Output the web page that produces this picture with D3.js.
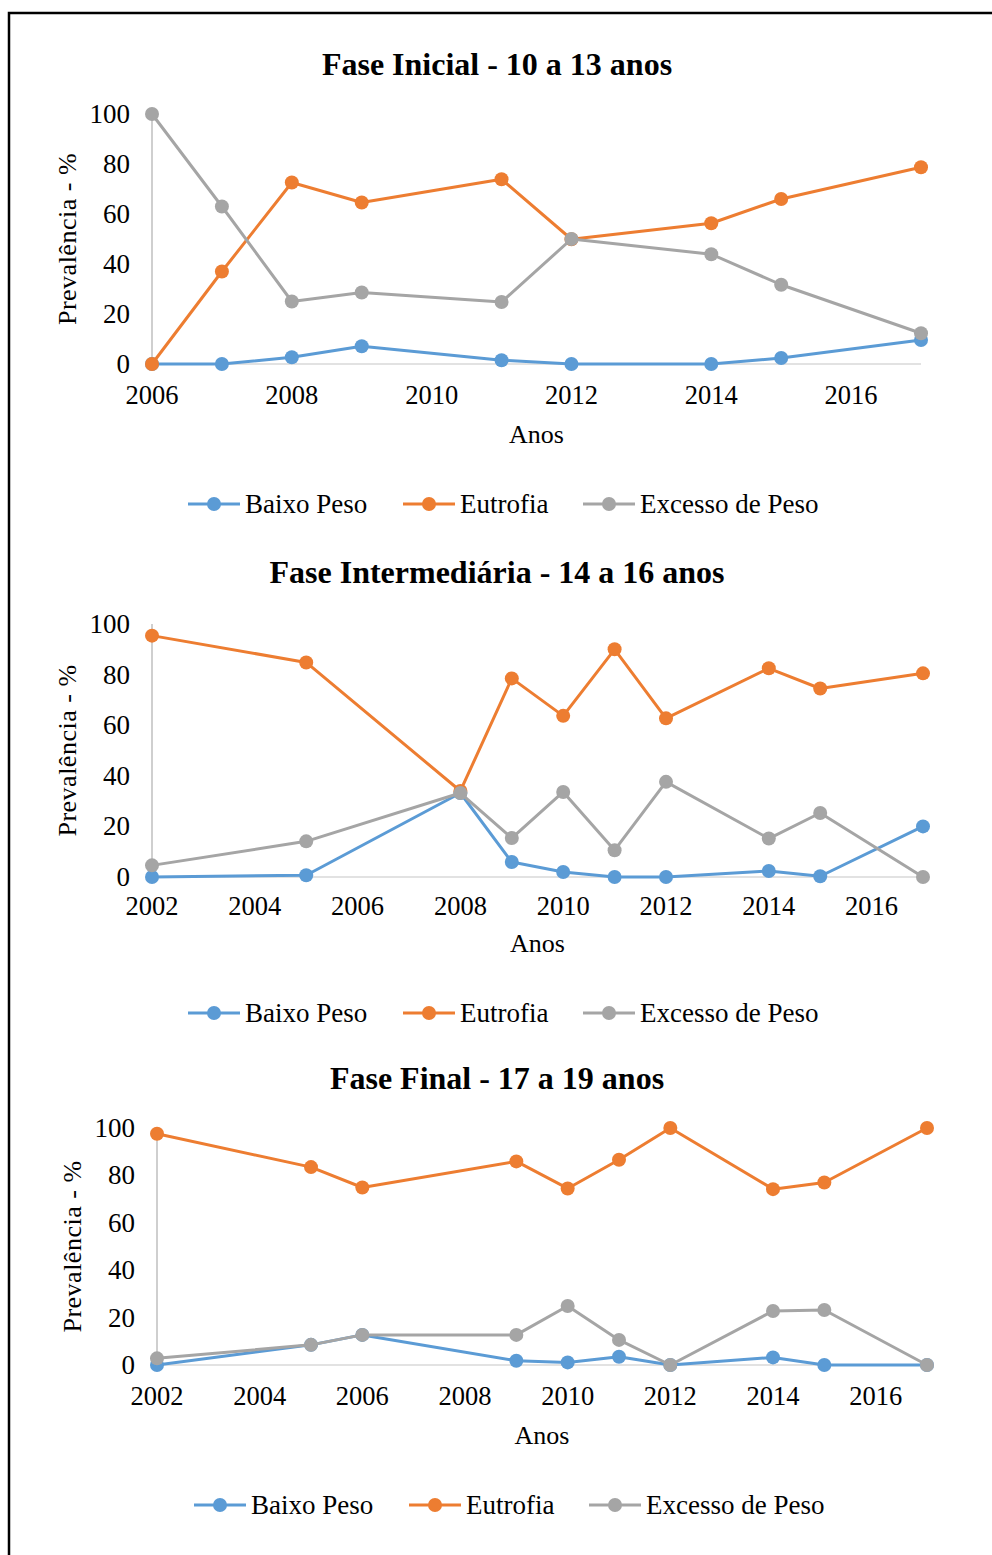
<!DOCTYPE html>
<html>
<head>
<meta charset="utf-8">
<script src="https://cdn.jsdelivr.net/npm/d3@7"></script>
<style>
  html, body { margin: 0; padding: 0; background: #fff; }
  svg { display: block; }
  text { font-family: "Liberation Serif", "Times New Roman", serif; fill: #000; }
</style>
</head>
<body>
<svg id="chart" width="992" height="1555"></svg>
<script>
// ---------- DATA ----------
const seriesNames = ["Baixo Peso", "Eutrofia", "Excesso de Peso"];
const seriesColors = ["#5B9BD5", "#ED7D31", "#A5A5A5"];
const yTicks = [0, 20, 40, 60, 80, 100];

// Fase Inicial - 10 a 13 anos
const title1 = "Fase Inicial - 10 a 13 anos";
const years1 = [2006, 2007, 2008, 2009, 2011, 2012, 2014, 2015, 2017];
const baixo1 = [0, 0, 2.7, 7.1, 1.5, 0, 0, 2.4, 9.6];
const eutro1 = [0, 37.0, 72.6, 64.6, 73.9, 49.9, 56.3, 66.0, 78.7];
const exces1 = [100, 63.0, 25.0, 28.6, 24.8, 50.0, 43.9, 31.7, 12.3];
const xTicks1 = [2006, 2008, 2010, 2012, 2014, 2016];

// Fase Intermediária - 14 a 16 anos
const title2 = "Fase Intermediária - 14 a 16 anos";
const years2 = [2002, 2005, 2008, 2009, 2010, 2011, 2012, 2014, 2015, 2017];
const baixo2 = [0, 0.7, 33.2, 5.9, 2.0, 0, 0, 2.4, 0.3, 20.0];
const eutro2 = [95.4, 84.8, 34.0, 78.5, 63.7, 90.0, 62.7, 82.5, 74.5, 80.5];
const exces2 = [4.6, 14.1, 33.2, 15.4, 33.6, 10.6, 37.6, 15.2, 25.3, 0];
const xTicks2 = [2002, 2004, 2006, 2008, 2010, 2012, 2014, 2016];

// Fase Final - 17 a 19 anos
const title3 = "Fase Final - 17 a 19 anos";
const years3 = [2002, 2005, 2006, 2009, 2010, 2011, 2012, 2014, 2015, 2017];
const baixo3 = [0, 8.5, 12.7, 1.8, 1.1, 3.5, 0, 3.2, 0, 0];
const eutro3 = [97.6, 83.5, 74.9, 85.9, 74.5, 86.6, 100, 74.2, 77.0, 100];
const exces3 = [2.8, 8.5, 12.7, 12.7, 24.9, 10.6, 0, 22.8, 23.2, 0];
const xTicks3 = [2002, 2004, 2006, 2008, 2010, 2012, 2014, 2016];

const yLabel = "Prevalência - %";
const xLabel = "Anos";

// ---------- LAYOUT ----------
const svg = d3.select("#chart");

// frame
svg.append("path")
  .attr("d", "M992,13 L9,13 L9,1555")
  .attr("fill", "none").attr("stroke", "#000").attr("stroke-width", 2.5);

const charts = [
  { title: title1, years: years1, series: [baixo1, eutro1, exces1], xTicks: xTicks1,
    xDomain: [2006, 2017], x0: 152, x1: 921, yBot: 364, yTop: 114,
    titleY: 64, tickY: 395, anosY: 434, legendY: 504, legendDx: 0, yLabX: 67, tickRight: 130 },
  { title: title2, years: years2, series: [baixo2, eutro2, exces2], xTicks: xTicks2,
    xDomain: [2002, 2017], x0: 152, x1: 923, yBot: 877, yTop: 624,
    titleY: 572, tickY: 906, anosY: 943, legendY: 1013, legendDx: 0, yLabX: 67, tickRight: 130 },
  { title: title3, years: years3, series: [baixo3, eutro3, exces3], xTicks: xTicks3,
    xDomain: [2002, 2017], x0: 157, x1: 927, yBot: 1365, yTop: 1128,
    titleY: 1078, tickY: 1396, anosY: 1435, legendY: 1505, legendDx: 6, yLabX: 72, tickRight: 135 }
];

charts.forEach(c => {
  const g = svg.append("g");
  const x = d3.scaleLinear().domain(c.xDomain).range([c.x0, c.x1]);
  const y = d3.scaleLinear().domain([0, 100]).range([c.yBot, c.yTop]);

  // title
  g.append("text").attr("x", 497).attr("y", c.titleY)
    .attr("text-anchor", "middle").attr("dominant-baseline", "central")
    .attr("font-size", 32).attr("font-weight", "bold").text(c.title);

  // y axis line
  g.append("line").attr("x1", x(c.xDomain[0])).attr("x2", x(c.xDomain[0]))
    .attr("y1", y(0)).attr("y2", y(100)).attr("stroke", "#BFBFBF").attr("stroke-width", 1.5);
  // x baseline
  g.append("line").attr("x1", x(c.xDomain[0])).attr("x2", x(c.xDomain[1]))
    .attr("y1", y(0)).attr("y2", y(0)).attr("stroke", "#D9D9D9").attr("stroke-width", 1.5);

  // y tick labels
  g.selectAll(".yt").data(yTicks).enter().append("text")
    .attr("x", c.tickRight).attr("y", d => y(d))
    .attr("text-anchor", "end").attr("dominant-baseline", "central")
    .attr("font-size", 27).text(d => d);

  // x tick labels
  g.selectAll(".xt").data(c.xTicks).enter().append("text")
    .attr("x", d => x(d)).attr("y", c.tickY)
    .attr("text-anchor", "middle").attr("dominant-baseline", "central")
    .attr("font-size", 26.5).text(d => d);

  // axis titles
  g.append("text").attr("x", (c.x0 + c.x1) / 2).attr("y", c.anosY)
    .attr("text-anchor", "middle").attr("dominant-baseline", "central")
    .attr("font-size", 26).text(xLabel);
  g.append("text")
    .attr("transform", `translate(${c.yLabX},${(c.yBot + c.yTop) / 2}) rotate(-90)`)
    .attr("text-anchor", "middle").attr("dominant-baseline", "central")
    .attr("font-size", 26).attr("letter-spacing", 0.5).text(yLabel);

  // series
  const line = d3.line().x(d => x(d[0])).y(d => y(d[1]));
  c.series.forEach((vals, i) => {
    const pts = c.years.map((yr, j) => [yr, vals[j]]);
    g.append("path").datum(pts).attr("d", line)
      .attr("fill", "none").attr("stroke", seriesColors[i]).attr("stroke-width", 3)
      .attr("stroke-linejoin", "round");
    g.selectAll(".pt" + i).data(pts).enter().append("circle")
      .attr("cx", d => x(d[0])).attr("cy", d => y(d[1])).attr("r", 7)
      .attr("fill", seriesColors[i]);
  });

  // legend
  const legendX = [188, 403, 583];
  seriesNames.forEach((name, i) => {
    const lx = legendX[i] + c.legendDx;
    g.append("line").attr("x1", lx).attr("x2", lx + 52)
      .attr("y1", c.legendY).attr("y2", c.legendY)
      .attr("stroke", seriesColors[i]).attr("stroke-width", 3);
    g.append("circle").attr("cx", lx + 26).attr("cy", c.legendY).attr("r", 7)
      .attr("fill", seriesColors[i]);
    g.append("text").attr("x", lx + 57).attr("y", c.legendY)
      .attr("dominant-baseline", "central").attr("font-size", 27).text(name);
  });
});
</script>
</body>
</html>
